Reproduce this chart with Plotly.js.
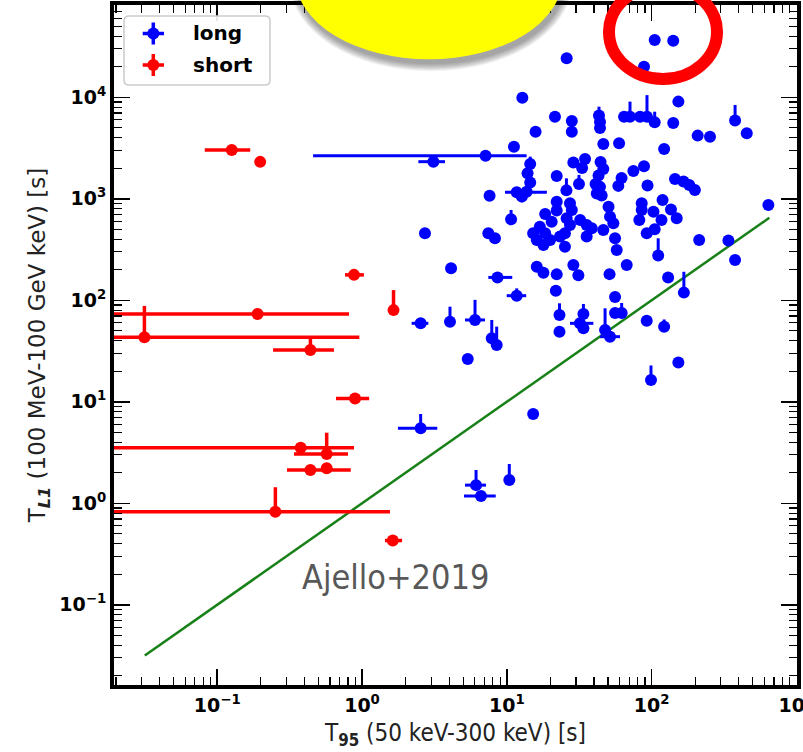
<!DOCTYPE html>
<html>
<head>
<meta charset="utf-8">
<script src="https://cdn.plot.ly/plotly-3.0.1.min.js"></script>
<style>html,body{margin:0;padding:0;background:#fff;}#chart{width:803px;height:752px;}</style>
</head>
<body>
<div id="chart"></div>
<script>
// ---- data ----
const longX = [105,141,88.6,25.9,12.8,21.5,28.1,28.1,43.3,44.0,44.0,15.8,64.5,70.9,83.2,92.9,105,153,141,208,253,377,454,11.2,46.4,59.6,122,7.13,3.11,14.5,13.9,14.5,28.8,34.7,33.1,44.4,46.4,43.0,41.0,44.0,41.8,45.2,88.6,74.8,22.1,31.5,25.8,62.0,58.9,93.7,145,166,182,199,7.60,11.7,12.7,13.7,22.1,22.1,27.3,28.1,50.4,85.4,85.4,119,136,103,117,149,640,10.7,18.4,20.4,25.9,32.1,35.6,38.6,27.3,16.9,18.4,15.2,16.1,17.9,19.9,23.3,25.2,25.2,35.6,46.4,51.6,54.4,55.9,57.4,82.2,92.5,105,111,67.3,130,213,339,377,2.72,7.45,8.28,4.12,16.1,17.9,22.1,28.8,31.2,51.2,167,8.62,11.7,21.8,55.9,55.9,62.1,2.54,4.05,6.03,7.87,8.51,5.37,23.1,23.1,33.8,32.0,33.8,47.7,51.6,92.5,122,153,99,2.54,15.2,6.13,6.63,10.4];
const longY = [36700,36100,20000,24200,9900,6440,5840,4580,6620,5710,4990,4580,6440,6440,6440,6440,5670,9060,5580,4190,4090,5890,4420,3260,3470,3520,3100,2660,2320,2200,1780,1450,2280,2470,2010,2300,1970,1700,1400,1310,1130,1080,2090,1880,1680,1400,1210,1600,1340,1350,1570,1480,1370,1220,1070,1160,1050,1175,936,768,903,776,836,903,776,973,785,746,618,642,869,628,708,595,642,618,552,512,552,531,457,457,393,351,393,424,457,337,424,493,667,574,408,313,618,457,501,276,223,168,393,388,250,457,457,408,207,214,187,180,223,176,181,119,168,111,124,108,75,75,59.3,61.5,64,42.2,36.3,26.4,71.6,49.1,73.3,59.3,53,51,43.8,63,55,24.4,16.4,5.48,7.58,1.51,1.18,1.70];
// lower / upper ends of the error bars, keyed by point index
const longXLo = {27:0.459,28:2.45,55:9.72,114:7.45,115:9.98,120:2.20,122:5.14,129:27.3,132:44.0,137:1.77,139:5.14,140:5.06};
const longXHi = {27:13.7,28:3.74,55:18.9,114:10.9,115:13.6,120:2.87,122:7.07,129:39.6,132:60.5,137:3.31,139:7.18,140:8.38};
const longYHi = {8:8080,13:9060,15:10500,16:7210,21:8400,29:2600,35:2600,45:1720,46:1590,54:1220,65:1090,71:776,97:408,101:440,113:191,115:131,119:94,121:86.5,122:101,123:64,124:55,126:93.4,128:92,131:83.4,134:64.7,136:22.8,137:7.58,139:2.13,141:2.44};

const shortX = [0.126,0.198,0.88,1.65,0.19,0.0314,0.44,0.895,0.377,0.57,0.44,0.57,0.252,1.63];
const shortY = [3030,2310,178,80,73.3,43.2,32.4,10.8,3.53,3.06,2.13,2.21,0.826,0.43];
const shortXLo = [0.082,null,0.763,null,0.019,0.019,0.243,0.661,0.019,0.339,0.303,null,0.019,1.44];
const shortXHi = [0.169,null,1.03,null,0.813,0.958,0.64,1.12,0.88,0.80,0.836,null,1.56,1.89];
const shortYHi = [null,null,null,126,null,88,42.6,null,null,4.96,null,null,1.44,null];

const lineX = [0.0316, 650];
const lineY = [0.0316, 650];

const seriesNames = ['long', 'short'];
const seriesColors = ['#0000ff', '#ff0000'];
const lineLabel = 'Ajello+2019';

const xTickVals = [0.1, 1, 10, 100, 1000];
const xTickText = ['10<sup>\u22121</sup>','10<sup>0</sup>','10<sup>1</sup>','10<sup>2</sup>','10<sup>3</sup>'];
const yTickVals = [0.1, 1, 10, 100, 1000, 10000];
const yTickText = ['10<sup>\u22121</sup>','10<sup>0</sup>','10<sup>1</sup>','10<sup>2</sup>','10<sup>3</sup>','10<sup>4</sup>'];

// ---- helpers ----
function lowFromMap(x, m){ return x.map((v,i)=> m[i]!=null ? v - m[i] : 0); }
function highFromMap(x, m){ return x.map((v,i)=> m[i]!=null ? m[i] - v : 0); }
function minorVals(){ const a=[]; for(let d=-3; d<=5; d++) for(let k=2;k<=9;k++) a.push(k*Math.pow(10,d)); return a; }

function makeTrace(x, y, xlo, xhi, yhi, name, color, th){
  return {
    x: x, y: y, type:'scatter', mode:'markers', name:name, showlegend:false,
    marker:{color:color, size:12},
    error_x:{type:'data', symmetric:false, arrayminus: lowFromMap(x,xlo), array: highFromMap(x,xhi), color:color, thickness:th, width:0},
    error_y:{type:'data', symmetric:false, arrayminus: y.map(()=>0), array: highFromMap(y,yhi), color:color, thickness:th, width:0}
  };
}
const longTrace = makeTrace(longX, longY, longXLo, longXHi, longYHi, seriesNames[0], seriesColors[0], 3);
const shortTrace = makeTrace(shortX, shortY, shortXLo, shortXHi, shortYHi, seriesNames[1], seriesColors[1], 3.5);
const lineTrace = {x: lineX, y: lineY, type:'scatter', mode:'lines', line:{color:'#178017', width:2.5}, showlegend:false, hoverinfo:'skip'};

// pixel -> paper helpers for decorations
const L=114, R=797, T=5, B=685;
const PX = p => (p-L)/(R-L);
const PY = p => 1-(p-T)/(B-T);

const shapes = [];
// soft drop shadow for the yellow ellipse
for(let g=1; g<=8; g++){
  shapes.push({type:'circle', xref:'paper', yref:'paper', layer:'above',
    x0:PX(295.6+2-g), x1:PX(562.4+2+g), y0:PY(-103.3+4-g), y1:PY(59.3+4+g),
    fillcolor:'rgba(0,0,0,0.05)', line:{width:0}});
}
shapes.push({type:'circle', xref:'paper', yref:'paper', layer:'above',
  x0:PX(295.6), x1:PX(562.4), y0:PY(-103.3), y1:PY(59.3), fillcolor:'#ffff00', line:{width:0}});
// red ring
shapes.push({type:'circle', xref:'paper', yref:'paper', layer:'above',
  x0:PX(609), x1:PX(717), y0:PY(-15), y1:PY(79), fillcolor:'rgba(0,0,0,0)', line:{color:'#ff0000', width:12}});

// legend box (rounded)
(function(){
  const x0=124, x1=270, y0=16, y1=85, r=5;
  const P=(x,y)=>PX(x)+','+PY(y);
  const d='M'+P(x0+r,y0)+' L'+P(x1-r,y0)+' Q'+P(x1,y0)+' '+P(x1,y0+r)+' L'+P(x1,y1-r)+' Q'+P(x1,y1)+' '+P(x1-r,y1)+
          ' L'+P(x0+r,y1)+' Q'+P(x0,y1)+' '+P(x0,y1-r)+' L'+P(x0,y0+r)+' Q'+P(x0,y0)+' '+P(x0+r,y0)+' Z';
  shapes.push({type:'path', xref:'paper', yref:'paper', layer:'above', path:d, fillcolor:'rgba(255,255,255,0.9)', line:{color:'#cccccc', width:1.5}});
})();
const legendRows = [33.5, 65];
const annotations = [];
seriesNames.forEach((nm, i)=>{
  const cx=153.3, cy=legendRows[i], c=seriesColors[i];
  shapes.push({type:'line', xref:'paper', yref:'paper', layer:'above', x0:PX(142.7), x1:PX(164), y0:PY(cy), y1:PY(cy), line:{color:c, width:3.5}});
  shapes.push({type:'line', xref:'paper', yref:'paper', layer:'above', x0:PX(cx), x1:PX(cx), y0:PY(cy-11), y1:PY(cy+11), line:{color:c, width:3.5}});
  shapes.push({type:'circle', xref:'paper', yref:'paper', layer:'above', x0:PX(cx-6), x1:PX(cx+6), y0:PY(cy-6), y1:PY(cy+6), fillcolor:c, line:{width:0}});
  annotations.push({xref:'paper', yref:'paper', x:PX(191), y:PY(cy), xanchor:'left', yanchor:'middle', text:nm, showarrow:false,
    font:{family:'DejaVu Sans', size:20, weight:'bold', color:'black'}});
});
annotations.push({xref:'paper', yref:'paper', x:PX(395), y:PY(577), xanchor:'center', yanchor:'middle', text:lineLabel, showarrow:false,
  font:{family:'DejaVu Sans Condensed, DejaVu Sans', size:34, color:'#585858'}});

const axisCommon = {
  type:'log', showgrid:false, zeroline:false,
  showline:true, linecolor:'black', linewidth:4, mirror:'allticks',
  ticks:'inside', ticklen:16, tickwidth:1.5, tickcolor:'black',
  tickmode:'array', ticklabeloverflow:'allow',
  tickfont:{family:'DejaVu Sans', size:19, weight:'bold', color:'black'},
  minor:{tickmode:'array', tickvals:minorVals(), ticks:'inside', ticklen:8, tickwidth:1.2, tickcolor:'black', showgrid:false}
};

const layout = {
  width:803, height:752,
  margin:{l:L, r:803-R, t:T, b:752-B},
  paper_bgcolor:'white', plot_bgcolor:'white',
  font:{family:'DejaVu Sans', color:'black'},
  showlegend:false,
  xaxis:Object.assign({}, axisCommon, {range:[-1.713, 3.004], tickvals:xTickVals, ticktext:xTickText,
    title:{text:'T<sub><b>95</b></sub> (50 keV-300 keV) [s]', font:{family:'DejaVu Sans Condensed, DejaVu Sans', size:24, color:'#222'}, standoff:10}}),
  yaxis:Object.assign({}, axisCommon, {range:[-1.79, 4.909], tickvals:yTickVals, ticktext:yTickText,
    title:{text:'T<sub><b><i>L1</i></b></sub> (100 MeV-100 GeV keV) [s]', font:{family:'DejaVu Sans', size:23, color:'#222'}, standoff:8}}),
  annotations: annotations,
  shapes: shapes
};

Plotly.newPlot('chart', [lineTrace, longTrace, shortTrace], layout, {staticPlot:true});
</script>
</body>
</html>
